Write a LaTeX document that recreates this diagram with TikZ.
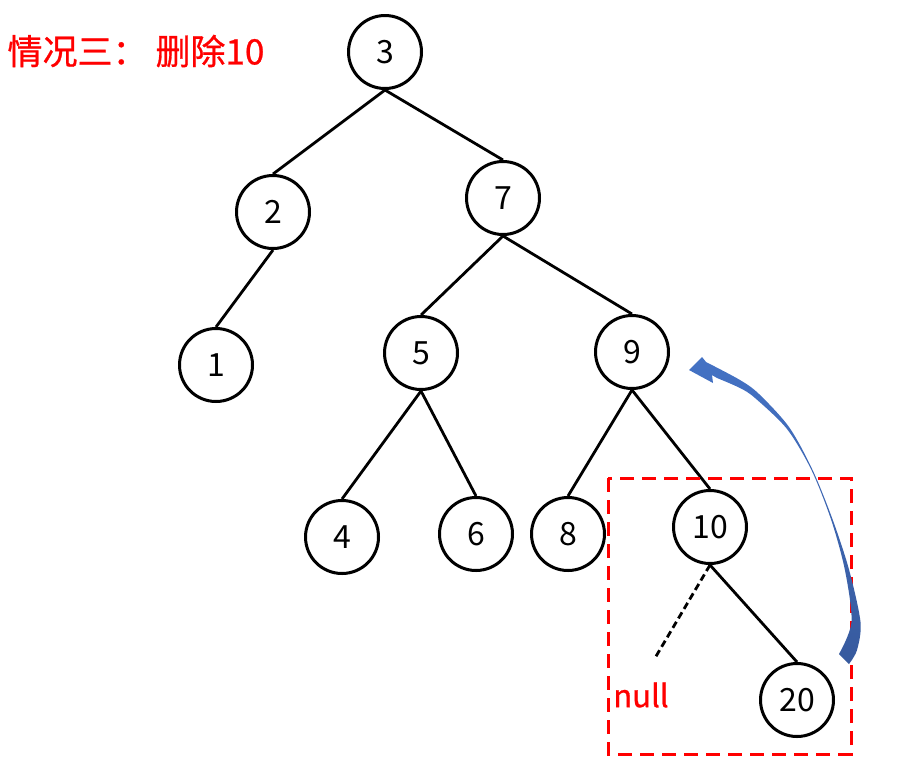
\documentclass[tikz,border=0pt]{standalone}
\usepackage{fontspec}
\newfontfamily\cjk{Noto Sans CJK SC}
\newfontfamily\cjkm[FakeBold=0.8]{Noto Sans CJK SC}
\definecolor{arrowtop}{HTML}{4472C4}
\definecolor{arrowbot}{HTML}{375A9E}
\begin{document}
\begin{tikzpicture}[x=1pt,y=-1pt,
  tn/.style={circle,draw=black,line width=3pt,minimum size=73pt,inner sep=0pt,font=\cjk\fontsize{32}{32}\selectfont},
  edge/.style={line width=2.8pt,black},
  redbox/.style={draw=red,line width=3pt,dash pattern=on 14pt off 8pt}]
\useasboundingbox (0,0) rectangle (921,780);
\node[anchor=west,text=red,font=\cjkm\fontsize{35}{35}\selectfont] (title) at (4,51) {情况三：\hspace{8pt}删除10};
\node[tn] (n3) at (385,52) {3};
\node[tn] (n2) at (273,212) {2};
\node[tn] (n7) at (503,198) {7};
\node[tn] (n1) at (216,365) {1};
\node[tn] (n5) at (421,353) {5};
\node[tn] (n9) at (632,352) {9};
\node[tn] (n4) at (342,537) {4};
\node[tn] (n6) at (476,534) {6};
\node[tn] (n8) at (568,534) {8};
\node[tn] (n10) at (710,527) {10};
\node[tn] (n20) at (797,700) {20};
\node[text=red,font=\cjkm\fontsize{31}{31}\selectfont] (null) at (641,695) {null};
\coordinate (nullend) at (655,658);
\draw[edge] (n3.south) -- (n2.north);
\draw[edge] (n3.south) -- (n7.north);
\draw[edge] (n2.south) -- (n1.north);
\draw[edge] (n7.south) -- (n5.north);
\draw[edge] (n7.south) -- (n9.north);
\draw[edge] (n5.south) -- (n4.north);
\draw[edge] (n5.south) -- (n6.north);
\draw[edge] (n9.south) -- (n8.north);
\draw[edge] (n9.south) -- (n10.north);
\draw[edge] (n10.south) -- (n20.north);
\draw[edge,dash pattern=on 7pt off 4pt] (n10.south) -- (nullend);
\draw[redbox] (608,478) rectangle (851,754);
\shade[top color=arrowtop,bottom color=arrowbot]
  (689,370) -- (702,357)
  -- plot[smooth] coordinates {(706,362) (740,380) (759,394) (789,427) (812.5,469.8) (832.7,519.7) (849,569.5) (860.5,622) (857,650) (849,664)}
  -- plot[smooth] coordinates {(839,654) (851.5,622) (845,570.5) (831.3,520.3) (811.5,470.2) (787,429) (755,398) (740,388) (717,378)}
  -- (712,375) -- (713,383) -- cycle;
\end{tikzpicture}
\end{document}
